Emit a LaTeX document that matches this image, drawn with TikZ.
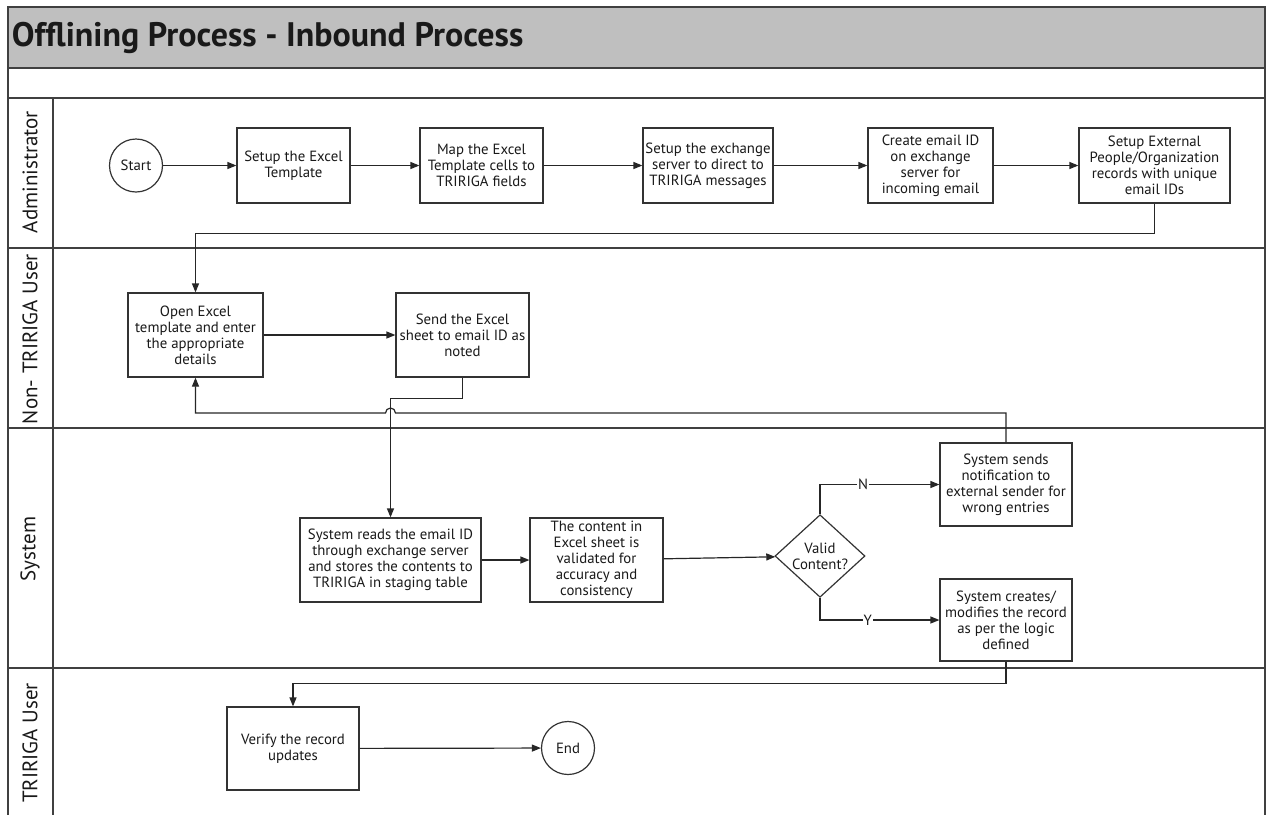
\documentclass[tikz,border=0pt]{standalone}
\usepackage{fontspec}
\setmainfont{PT Sans}
\usetikzlibrary{arrows.meta,shapes.geometric}

\begin{document}
\begin{tikzpicture}[x=1pt,y=-1pt,line width=1.2pt,
		every node/.style={font=\fontsize{14.8}{16}\selectfont,align=center,text=black!90},
		box/.style={rectangle,draw=black!80,minimum height=75pt,inner sep=1pt},
		term/.style={circle,draw=black!80,minimum size=53pt,inner sep=0pt},
		lane/.style={rotate=90,font=\fontsize{21}{24}\selectfont},
		rule/.style={draw=black!75},
		flow/.style={draw=black!85,-{Triangle[length=9pt,width=7pt]}}]
				\useasboundingbox (0,0) rectangle (1271,815);
				\draw[rule,fill=black!25] (8,7) rectangle (1265,68);
				\draw[rule] (8,68) rectangle (1265,98);
				\foreach \y in {248,428,668}
					\draw[rule] (8,\y) -- (1265,\y);
				\draw[rule] (8,98) -- (8,815) (53,98) -- (53,815) (1265,98) -- (1265,815);
				\node[anchor=west,font=\fontsize{34}{36}\selectfont\bfseries] (title) at (8,38) {Offlining Process - Inbound Process};
				\node[lane] (l1) at (30,172) {Administrator};
				\node[lane] (l2) at (30,339) {Non- TRIRIGA User};
				\node[lane] (l3) at (30,549) {System};
				\node[lane] (l4) at (30,743) {TRIRIGA User};
				\node[term] (a0) at (136,165.5) {Start};
				\node[box,minimum width=113pt] (a1) at (293.5,165.5) {Setup the Excel\\Template};
				\node[box,minimum width=123pt] (a2) at (481.5,165.5) {Map the Excel\\Template cells to\\TRIRIGA fields};
				\node[box,minimum width=130pt] (a3) at (708,165.5) {Setup the exchange\\server to direct to\\TRIRIGA messages};
				\node[box,minimum width=125pt] (a4) at (930.5,165.5) {Create email ID\\on exchange\\server for\\incoming email};
				\node[box,minimum width=151pt] (a5) at (1154.5,165.5) {Setup External\\People/Organization\\records with unique\\email IDs};
				\node[box,minimum width=135pt,minimum height=84pt] (open) at (195.5,335) {Open Excel\\template and enter\\the appropriate\\details};
				\node[box,minimum width=133pt,minimum height=84pt] (send) at (462.5,335) {Send the Excel\\sheet to email ID as\\noted};
				\node[box,minimum width=181pt,minimum height=84pt] (reads) at (390.5,560) {System reads the email ID\\through exchange server\\and stores the contents to\\TRIRIGA in staging table};
				\node[box,minimum width=133pt,minimum height=84pt] (valid) at (596.5,560) {The content in\\Excel sheet is\\validated for\\accuracy and\\consistency};
				\node[diamond,draw=black!80,minimum width=90pt,minimum height=74pt,inner sep=0pt] (check) at (820,556) {Valid\\Content?};
				\node[box,minimum width=132pt,minimum height=83pt] (notify) at (1006,484.5) {System sends\\notification to\\external sender for\\wrong entries};
				\node[box,minimum width=132pt,minimum height=82pt] (create) at (1006,620) {System creates/\\modifies the record\\as per the logic\\defined};
				\node[box,minimum width=132pt,minimum height=83pt] (verify) at (293,748.5) {Verify the record\\updates};
				\node[term] (end) at (568,748) {End};
				\coordinate (fb) at (0,413);
				\foreach \x/\y in {a0/a1,a1/a2,a2/a3,a3/a4,a4/a5,open/send,reads/valid,valid/check,verify/end}
					\draw[flow] (\x) -- (\y);
				\draw[flow] (a5.south) -- ++(0,30) -| (open.north);
				\draw[flow] (send.south) -- ++(0,21) -| (reads.north);
				\draw[flow] (check.north) |- node[pos=0.68,fill=white,inner sep=1pt] {N} (notify.west);
				\draw[flow] (check.south) |- node[pos=0.7,fill=white,inner sep=1pt] {Y} (create.west);
				\draw[flow] (notify.north) |- ([xshift=5pt]reads.north |- fb) arc[start angle=0,end angle=-180,radius=5] -| (open.south);
				\draw[flow] (create.south) -- ++(0,22) -| (verify.north);
			\end{tikzpicture}
\end{document}
